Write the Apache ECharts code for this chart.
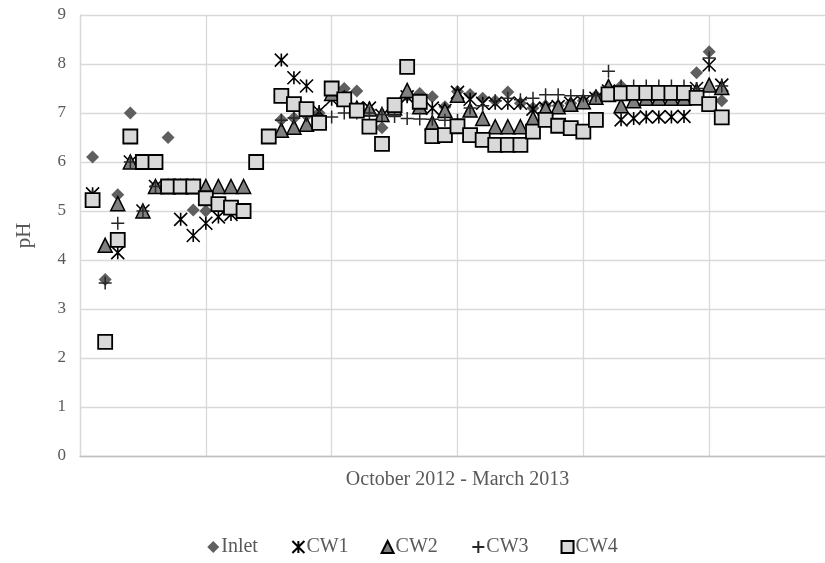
<!DOCTYPE html>
<html lang="en">
<head>
  <meta charset="UTF-8">
  <script src="https://cdn.jsdelivr.net/npm/echarts@6/dist/echarts.min.js"></script>
  <title>pH</title>
</head>
<body style="margin:0">
  <div id="chart" style="width: 825px; height: 563px"></div>
  <script>
    // sampling day index 1..51 along the Oct 2012 - Mar 2013 period
    const days = [1,2,3,4,5,6,7,8,9,10,11,12,13,14,15,16,17,18,19,20,21,22,23,24,25,26,27,28,29,30,31,32,33,34,35,36,37,38,39,40,41,42,43,44,45,46,47,48,49,50,51]
    const inlet = [6.1,3.6,5.33,7.0,6.0,5.5,6.5,5.5,5.02,5.0,5.1,5.05,5.0,6.0,6.5,6.86,6.9,6.95,7.0,7.45,7.5,7.45,7.05,6.7,7.15,7.35,7.4,7.33,7.13,7.44,7.38,7.3,7.25,7.43,7.2,7.1,7.15,7.15,7.2,7.25,7.35,7.5,7.55,7.4,7.35,7.35,7.35,7.4,7.82,8.25,7.25]
    const cw1 = [5.35,null,4.15,6.0,5.0,5.5,5.5,4.83,4.5,4.75,4.88,4.93,5.0,null,null,8.08,7.72,7.55,7.03,7.28,7.3,7.1,7.1,6.95,7.15,7.33,7.15,7.1,7.05,7.42,7.28,7.2,7.2,7.2,7.2,7.08,7.1,7.13,7.2,7.22,7.3,7.45,6.86,6.89,6.92,6.92,6.92,6.93,7.5,7.98,7.57]
    const cw2 = [null,4.3,5.15,6.0,5.0,5.5,5.5,5.5,5.5,5.5,5.5,5.5,5.5,null,null,6.65,6.71,6.77,6.85,7.4,7.3,7.1,7.08,6.97,7.1,7.46,7.13,6.8,7.05,7.36,7.06,6.89,6.72,6.72,6.72,6.89,7.1,7.13,7.18,7.23,7.32,7.54,7.15,7.25,7.3,7.3,7.3,7.3,7.45,7.57,7.52]
    const cw3 = [5.3,3.53,4.75,6.0,5.0,5.5,null,null,null,null,null,null,null,null,null,6.85,6.9,6.95,6.95,6.92,7.0,7.0,7.0,6.97,6.93,6.89,6.88,6.87,6.85,6.85,7.1,7.15,7.25,7.3,7.27,7.3,7.37,7.37,7.35,7.35,7.35,7.85,7.55,7.55,7.55,7.55,7.55,7.55,7.5,8.12,7.55]
    const cw4 = [5.22,2.33,4.41,6.52,6.0,6.0,5.5,5.5,5.5,5.26,5.14,5.07,5.0,6.0,6.52,7.35,7.18,7.08,6.8,7.5,7.28,7.05,6.72,6.37,7.16,7.94,7.23,6.53,6.55,6.73,6.55,6.45,6.35,6.35,6.35,6.62,6.86,6.74,6.69,6.62,6.86,7.38,7.4,7.41,7.41,7.41,7.41,7.41,7.31,7.18,6.91]
    const seriesNames = ['Inlet', 'CW1', 'CW2', 'CW3', 'CW4']
    const seriesValues = [inlet, cw1, cw2, cw3, cw4]

    const starPath = 'path://M0,0 L10,10 M10,0 L0,10 M5,0 L5,10'
    const plusPath = 'path://M0,5 L10,5 M5,0 L5,10'
    const looks = [
      { symbol: 'diamond', size: 13, style: { color: '#5f5f5f' } },
      { symbol: starPath, size: 13, style: { color: 'none', borderColor: '#000', borderWidth: 1.6 } },
      { symbol: 'triangle', size: 14, style: { color: '#808080', borderColor: '#000', borderWidth: 1.5 } },
      { symbol: plusPath, size: 13, style: { color: 'none', borderColor: '#262626', borderWidth: 1.5 } },
      { symbol: 'rect', size: 14, style: { color: '#d9d9d9', borderColor: '#000', borderWidth: 1.8 } }
    ]

    const chart = echarts.init(document.getElementById('chart'))
    const font = '"Liberation Serif", "DejaVu Serif", serif'
    chart.setOption({
      animation: false,
      backgroundColor: '#fff',
      // the plot runs past the right edge of the picture, as in the original
      grid: { left: 80, top: 15, width: 755, height: 441, outerBoundsMode: 'none' },
      legend: {
        bottom: 1,
        left: 'center',
        itemGap: 32,
        itemWidth: 12,
        itemHeight: 12,
        textStyle: { fontFamily: font, fontSize: 20, color: '#595959', padding: [0, 0, 0, -3] },
        data: seriesNames
      },
      xAxis: {
        type: 'value',
        min: 0,
        max: 60,
        interval: 10,
        name: 'October 2012 - March 2013',
        nameLocation: 'middle',
        nameGap: 14,
        nameTextStyle: { fontFamily: font, fontSize: 20, color: '#595959', verticalAlign: 'top' },
        axisLine: { lineStyle: { color: '#bfbfbf', width: 1.3 } },
        axisTick: { show: false },
        axisLabel: { show: false },
        splitLine: { show: true, lineStyle: { color: '#d9d9d9', width: 1.3 } }
      },
      yAxis: {
        type: 'value',
        min: 0,
        max: 9,
        interval: 1,
        name: 'pH',
        nameLocation: 'middle',
        nameGap: 45,
        nameTextStyle: { fontFamily: font, fontSize: 21, color: '#595959' },
        axisLine: { show: true, lineStyle: { color: '#d9d9d9', width: 1.3 } },
        axisTick: { show: false },
        axisLabel: { fontFamily: font, fontSize: 17, color: '#595959', margin: 14 },
        splitLine: { lineStyle: { color: '#d9d9d9', width: 1.3 } }
      },
      series: seriesNames.map((name, k) => ({
        name: name,
        type: 'scatter',
        symbol: looks[k].symbol,
        symbolSize: looks[k].size,
        itemStyle: Object.assign({ opacity: 1 }, looks[k].style),
        z: 2 + k,
        data: days.map((d, i) => [d, seriesValues[k][i]]).filter(p => p[1] !== null)
      }))
    })
  </script>
</body>
</html>
